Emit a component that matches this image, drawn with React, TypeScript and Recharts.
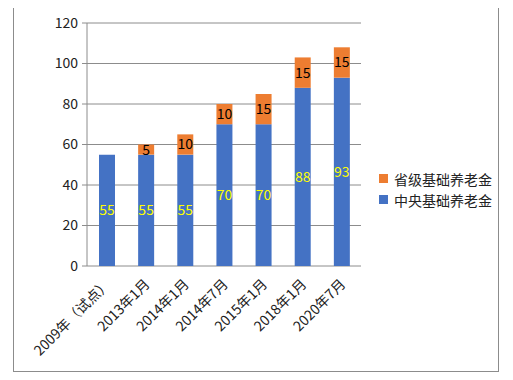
import { Bar, BarChart, CartesianGrid, LabelList, XAxis, YAxis } from 'recharts';

const periods = ['2009年（试点）', '2013年1月', '2014年1月', '2014年7月', '2015年1月', '2018年1月', '2020年7月'];
const central = [55, 55, 55, 70, 70, 88, 93];
const provincial = [0, 5, 10, 10, 15, 15, 15];
const seriesNames = ['省级基础养老金', '中央基础养老金'];
const yTicks = [0, 20, 40, 60, 80, 100, 120];
const edgeTicks = [0, 1, 2, 3, 4, 5, 6, 7];

const BLUE = '#4472C4';
const ORANGE = '#ED7D31';
const GRID = '#8c8c8c';
const FONT = '"Noto Sans CJK SC", "Noto Sans", sans-serif';

const data = periods.map((name, i) => ({ name, central: central[i], provincial: provincial[i] }));

function PeriodTick({ x, y, payload }: any) {
  const ax = x + 5;
  const ay = y + 11;
  return (
    <text
      x={ax}
      y={ay}
      transform={`rotate(-45, ${ax}, ${ay})`}
      textAnchor="end"
      fontSize={14}
      fill="#222"
      fontFamily={FONT}
    >
      {payload.value}
    </text>
  );
}

export default function App() {
  return (
    <div
      style={{
        position: 'relative',
        width: 484,
        height: 363,
        border: `1px solid ${GRID}`,
        marginLeft: 5,
        marginTop: -1,
        fontFamily: FONT,
        background: '#fff',
      }}
    >
      <BarChart width={484} height={363} data={data} margin={{ top: 15, right: 137, left: 0, bottom: 0 }}>
        <CartesianGrid vertical={false} stroke={GRID} />
        <XAxis
          xAxisId="edge"
          type="number"
          domain={[0, 7]}
          ticks={edgeTicks}
          allowDataOverflow
          height={0}
          tick={false}
          tickSize={5}
          axisLine={{ stroke: GRID }}
          tickLine={{ stroke: GRID }}
        />
        <XAxis
          dataKey="name"
          interval={0}
          height={105}
          axisLine={false}
          tickLine={false}
          tick={<PeriodTick />}
        />
        <YAxis
          domain={[0, 120]}
          ticks={yTicks}
          width={73}
          tickSize={5}
          tickMargin={4}
          axisLine={{ stroke: GRID }}
          tickLine={{ stroke: GRID }}
          tick={{ fill: '#222', fontSize: 14, fontFamily: FONT }}
        />
        <Bar dataKey="central" stackId="a" fill={BLUE} barSize={16} isAnimationActive={false}>
          <LabelList dataKey="central" position="center" fill="#FFFF00" fontSize={14} fontFamily={FONT} />
        </Bar>
        <Bar dataKey="provincial" stackId="a" fill={ORANGE} barSize={16} isAnimationActive={false}>
          <LabelList
            dataKey="provincial"
            position="center"
            fill="#000"
            fontSize={14}
            fontFamily={FONT}
            formatter={(v: any) => (v ? v : '')}
          />
        </Bar>
      </BarChart>
      <div style={{ position: 'absolute', left: 365, top: 160, fontSize: 14, color: '#222' }}>
        {seriesNames.map((s, i) => (
          <div key={s} style={{ display: 'flex', alignItems: 'center', height: 21 }}>
            <span style={{ width: 9, height: 9, background: i === 0 ? ORANGE : BLUE, marginRight: 6 }} />
            <span>{s}</span>
          </div>
        ))}
      </div>
    </div>
  );
}
